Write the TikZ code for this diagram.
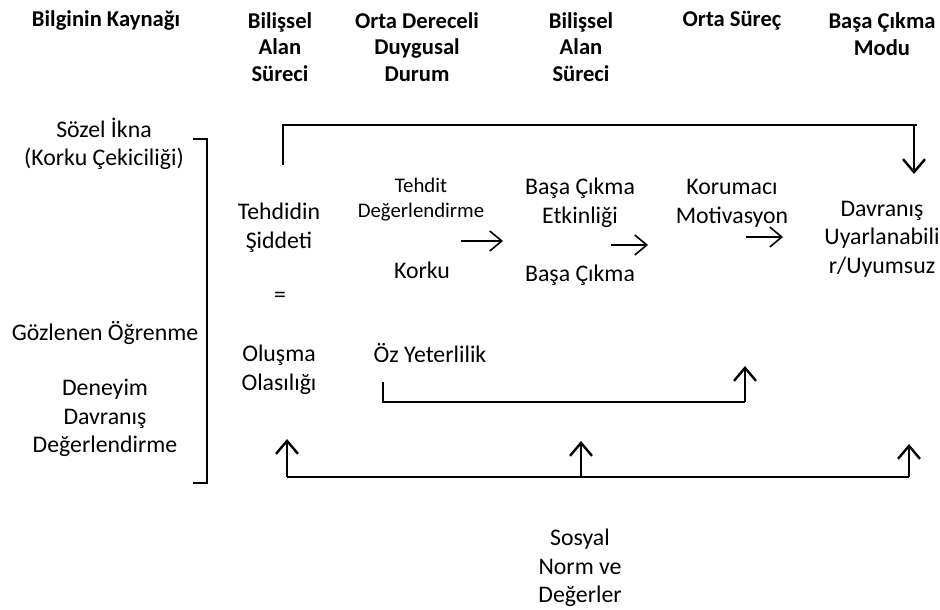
\documentclass[tikz,border=0pt]{standalone}
\usepackage{fontspec}
\setmainfont{Carlito}
\usetikzlibrary{arrows.meta}
\tikzstyle{txt} = [align=center, inner sep=0pt,
    font=\fontsize{11.9}{14.3}\selectfont]
\tikzstyle{head} = [align=center, inner sep=0pt,
    font=\bfseries\fontsize{11.3}{13.3}\selectfont]
\tikzstyle{small} = [align=center, inner sep=0pt,
    font=\fontsize{10.4}{12.5}\selectfont]
\tikzstyle{line} = [draw, line width=0.9pt]
\tikzstyle{uparr} = [draw, line width=1.2pt, -{Straight Barb[length=6.5pt,width=11pt,line width=1.2pt]}]
\tikzstyle{rarr} = [draw, line width=0.8pt, -{Straight Barb[length=6pt,width=10pt,line width=0.8pt]}]

\begin{document}
\begin{tikzpicture}[x=0.5pt, y=-0.5pt]
        \useasboundingbox (0,0) rectangle (940,609);
        % Headers
        \node (hsource) [head] at (106,20) {Bilginin Kaynağı};
        \node (hcog) [head] at (280,47) {Bilişsel\\Alan\\Süreci};
        \node (hmood) [head] at (417,47) {Orta Dereceli\\Duygusal\\Durum};
        \node (hcog2) [head] at (581,47) {Bilişsel\\Alan\\Süreci};
        \node (hmid) [head] at (732,21) {Orta Süreç};
        \node (hmode) [head] at (882,34) {Başa Çıkma\\Modu};

        % Sources
        \node (verbal) [txt] at (104,144) {Sözel İkna\\(Korku Çekiciliği)};
        \node (observe) [txt] at (105,333) {Gözlenen Öğrenme};
        \node (exper) [txt] at (105,418) {Deneyim\\Davranış\\Değerlendirme};
        \path [line] (193,139) -| (207,483) -- (193,483);

        % Middle
        \node (severity) [txt] at (279,228) {Tehdidin\\Şiddeti};
        \node (equal) [txt] at (280,297) {=};
        \node (prob) [txt] at (279,370) {Oluşma\\Olasılığı};
        \node (appraise) [small] at (421,200) {Tehdit\\Değerlendirme};
        \node (fear) [txt] at (422,270) {Korku};
        \node (efficacy) [txt] at (580,203) {Başa Çıkma\\Etkinliği};
        \node (coping) [txt] at (580,275) {Başa Çıkma};
        \node (motiv) [txt] at (732,203) {Korumacı\\Motivasyon};
        \node (behav) [txt] at (882,239) {Davranış\\Uyarlanabili\\r/Uyumsuz};
        \node (selfeff) [txt] at (430,353) {Öz Yeterlilik};
        \node (social) [txt] at (580,568) {Sosyal\\Norm ve\\Değerler};

        % Flow arrows
        \coordinate (a1s) at (461,241); \coordinate (a1e) at (503,241);
        \path [rarr] (a1s) -- (a1e);
        \coordinate (a2s) at (611,245); \coordinate (a2e) at (648,245);
        \path [rarr] (a2s) -- (a2e);
        \coordinate (a3s) at (746,237); \coordinate (a3e) at (783,237);
        \path [rarr] (a3s) -- (a3e);

        % Top feedback
        \coordinate (topl) at (283,165);
        \coordinate (topr) at (914,125);
        \path [line] (topl) |- (917,125);
        \path [uparr] (topr) -- (914,174);

        % Self efficacy
        \coordinate (effl) at (383,382);
        \coordinate (effr) at (745,402);
        \path [line] (effl) |- (effr);
        \path [uparr] (effr) -- (745,366);

        % Social norms
        \coordinate (soc1) at (287,477);
        \coordinate (soc2) at (581,477);
        \coordinate (soc3) at (909,477);
        \path [line] (soc1) -- (soc3);
        \path [uparr] (soc1) -- (287,439);
        \path [uparr] (soc2) -- (581,441);
        \path [uparr] (soc3) -- (909,444);
    \end{tikzpicture}
\end{document}
